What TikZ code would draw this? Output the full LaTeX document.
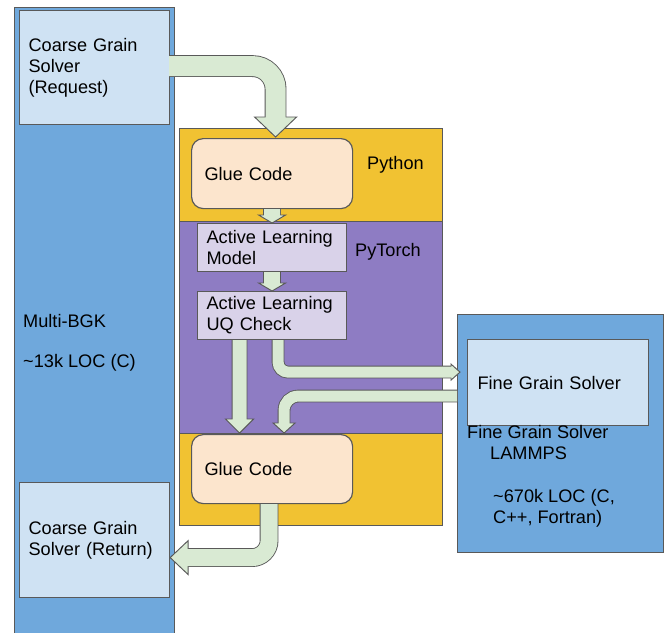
\documentclass[tikz,border=0pt]{standalone}
\usepackage{fontspec}
\setmainfont{Liberation Sans}
\usetikzlibrary{calc}

\definecolor{bgkblue}{HTML}{6FA8DC}
\definecolor{lightblue}{HTML}{CFE2F3}
\definecolor{pyorange}{HTML}{F1C232}
\definecolor{torchpurple}{HTML}{8E7CC3}
\definecolor{gluepeach}{HTML}{FCE5CD}
\definecolor{alpurple}{HTML}{D9D2E9}
\definecolor{arrowgreen}{HTML}{D9EAD3}
\definecolor{edgegray}{HTML}{595959}

% fat arrow: #1 shaft path, #2 head, #3 shaft width (pt)
\newcommand{\fatarrow}[3]{%
  \draw[fatedge, line width=#3pt+1.5pt] #1;
  \filldraw[fathead] #2 -- cycle;
  \draw[fatbody, line width=#3pt] #1;}

\begin{document}
\begin{tikzpicture}[x=0.03cm, y=-0.03cm,
  every node/.style={font=\fontsize{15.5}{17.9}\selectfont},
  box/.style={draw=edgegray, line width=1pt, anchor=north west, inner sep=0pt},
  solver/.style={box, fill=lightblue, align=left},
  glue/.style={box, fill=gluepeach, rounded corners=10pt, align=left},
  albox/.style={box, fill=alpurple, align=left},
  lbl/.style={inner sep=0pt, align=left},
  fatedge/.style={draw=edgegray},
  fatbody/.style={draw=arrowgreen},
  fathead/.style={fill=arrowgreen, draw=edgegray, line width=0.8pt}]
\useasboundingbox (0,0) rectangle (666,632);

% --- Multi-BGK side ---
\node[box, fill=bgkblue, minimum width=4.8cm, minimum height=19.2cm] (bgk) at (14,7) {};
\node[solver, minimum width=4.5cm, minimum height=3.42cm, text width=3.96cm] (req) at (19,10)
    {Coarse Grain\\Solver\\(Request)};
\node[solver, minimum width=4.5cm, minimum height=3.45cm, text width=3.96cm] (ret) at (19,482)
    {Coarse Grain\\Solver (Return)};
\node[lbl, anchor=base west] (bgklabel) at (23,367)
    {Multi-BGK\\[0.57cm]\textasciitilde 13k LOC (C)};

% --- Python / PyTorch layers ---
\node[box, fill=pyorange, minimum width=7.89cm, minimum height=11.91cm] (python) at (179,128) {};
\node[box, fill=torchpurple, minimum width=7.89cm, minimum height=6.36cm] (torch) at (179,221) {};
\node[lbl] (pylabel) at (395.5,165) {Python};
\node[lbl] (torchlabel) at (388,252) {PyTorch};

\node[glue, minimum width=4.83cm, minimum height=2.1cm, text width=4.05cm] (glueA) at (191,138) {Glue Code};
\node[glue, minimum width=4.83cm, minimum height=2.07cm, text width=4.05cm] (glueB) at (191,434) {Glue Code};
\node[albox, minimum width=4.47cm, minimum height=1.44cm, text width=3.93cm] (alm) at (197,223)
    {Active Learning\\Model};
\node[albox, minimum width=4.47cm, minimum height=1.44cm, text width=3.93cm] (uq) at (197,291)
    {Active Learning\\UQ Check};

% --- Fine grain side ---
\node[box, fill=bgkblue, minimum width=6.18cm, minimum height=7.14cm] (fgbox) at (457,314) {};
\node[solver, minimum width=5.43cm, minimum height=2.58cm, text width=4.83cm] (fgs) at (467,339)
    {Fine Grain Solver};
\node[lbl, anchor=base west] (fglabel) at (467,523)
    {Fine Grain Solver\\\hspace*{0.69cm}LAMMPS\\[0.66cm]%
     \hspace*{0.78cm}\textasciitilde 670k LOC (C,\\\hspace*{0.78cm}C++, Fortran)};

% --- Arrows ---
\coordinate (t1) at ($(glueA.north)+(3.5,-1)$);
\coordinate (t2) at (alm.north);
\coordinate (t3) at (uq.north);
\coordinate (t4) at ($(glueB.north)+(-32.5,-1)$);
\coordinate (t5) at ($(fgbox.west)+(3,-61.5)$);
\coordinate (t6) at ($(glueB.north)+(12,-1)$);
\coordinate (t7) at ($(ret.east)+(0,17.5)$);

% request -> glue code
\fatarrow{($(req.east)+(-1,-1.5)$) [rounded corners=19.6pt] -| ($(t1)+(0,-18)$)}
    {($(t1)+(-21,-20)$) -- (t1) -- ($(t1)+(21,-20)$)}{17.1}
% glue -> model -> uq
\fatarrow{(glueA.south) -- ($(t2)+(0,-6)$)}
    {($(t2)+(-13.5,-8)$) -- (t2) -- ($(t2)+(13.5,-8)$)}{13.7}
\fatarrow{(alm.south) -- ($(t3)+(0,-6)$)}
    {($(t3)+(-13.5,-8)$) -- (t3) -- ($(t3)+(13.5,-8)$)}{13.7}
% uq -> glue code
\fatarrow{($(uq.south)+(-32.5,0)$) -- ($(t4)+(0,-12)$)}
    {($(t4)+(-14,-14)$) -- (t4) -- ($(t4)+(14,-14)$)}{12}
% uq -> fine grain
\fatarrow{($(uq.south)+(6,0)$) [rounded corners=8.5pt] |- ($(t5)+(-7,0)$)}
    {($(t5)+(-9,-8)$) -- (t5) -- ($(t5)+(-9,8)$)}{9.4}
% fine grain -> glue code
\fatarrow{($(fgbox.west)+(0,-37.5)$) [rounded corners=12pt] -| ($(t6)+(0,-8)$)}
    {($(t6)+(-11,-10)$) -- (t6) -- ($(t6)+(11,-10)$)}{9.4}
% glue code -> return
\fatarrow{($(glueB.south)+(-3,0)$) [rounded corners=14.5pt] |- ($(t7)+(16,0)$)}
    {($(t7)+(18,-17)$) -- (t7) -- ($(t7)+(18,17)$)}{14.5}
\end{tikzpicture}
\end{document}
